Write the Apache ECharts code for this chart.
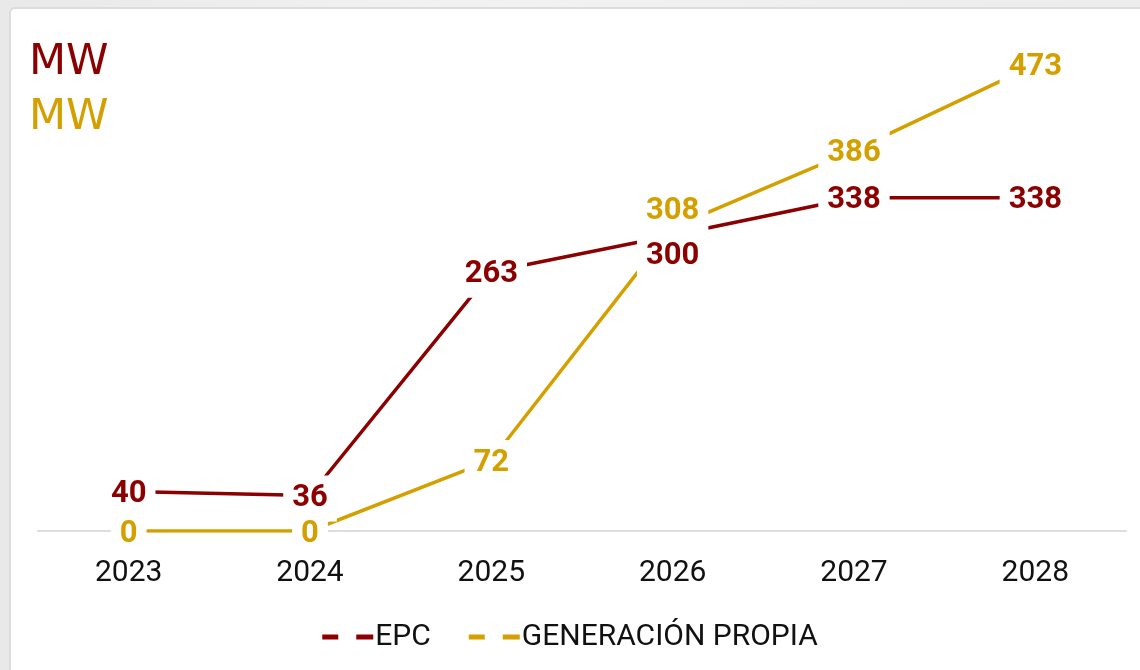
<!DOCTYPE html>
<html>
<head>
<meta charset="utf-8">
<script src="https://cdn.jsdelivr.net/npm/echarts@6/dist/echarts.min.js"></script>
<style>
  html, body { margin: 0; padding: 0; width: 1140px; height: 670px; overflow: hidden;
    background: linear-gradient(90deg, #e9e9e9 0%, #f2f2f2 40%, #ececec 100%); }
  #card { position: absolute; left: 9px; top: 7px; right: -10px; bottom: -10px;
    background: #ffffff; border: 2px solid #dcdcdc; border-radius: 6px; }
  #chart { position: absolute; left: 0; top: 0; width: 1140px; height: 670px; }
</style>
</head>
<body>
<div id="card"></div>
<div id="chart"></div>
<script>
// Installed capacity (MW) per year
const years = ['2023', '2024', '2025', '2026', '2027', '2028'];
const epc = [40, 36, 263, 300, 338, 338];
const generacionPropia = [0, 0, 72, 308, 386, 473];
const seriesNames = ['EPC', 'GENERACIÓN PROPIA'];
const unitLabel = 'MW';

const RED = '#8b0000';
const GOLD = '#d4a000';

// Label offsets (px); the 2026 labels are pushed apart
const BASE_DY = 3;
const epcNudge = [0, 0, 0, 18, 0, 0];
const genNudge = [0, 0, 0, -19, 0, 0];

function labelled(values, nudge) {
  return values.map((v, i) => ({
    value: v,
    label: { offset: [0, BASE_DY + nudge[i]] }
  }));
}

const valueLabel = (color) => ({
  show: true,
  position: 'inside',
  color: color,
  opacity: 1,
  fontFamily: 'Roboto',
  fontWeight: 'bold',
  fontSize: 31,
  backgroundColor: '#ffffff',
  padding: [8, 9, 7, 9]
});

const lineSeries = (name, values, color) => ({
  name: name,
  type: 'line',
  data: values,
  color: color,
  lineStyle: { color: color, width: 3.5 },
  symbol: 'none',
  z: 2
});

// Value labels sit on top of both lines, with a white backing
const labelSeries = (name, values, nudge, color) => ({
  name: name,
  type: 'scatter',
  data: labelled(values, nudge),
  symbolSize: 0,
  itemStyle: { color: color, opacity: 1 },
  label: valueLabel(color),
  z: 3,
  silent: true
});

const chart = echarts.init(document.getElementById('chart'), null, { renderer: 'canvas' });

chart.setOption({
  animation: false,
  graphic: [
    { type: 'text', left: 29, top: 41, z: 10,
      style: { text: unitLabel, fill: RED, font: '43px "DejaVu Sans"' } },
    { type: 'text', left: 29, top: 96, z: 10,
      style: { text: unitLabel, fill: GOLD, font: '43px "DejaVu Sans"' } }
  ],
  grid: { left: 38, right: 14, top: 38, bottom: 139 },
  legend: {
    top: 617,
    left: 'center',
    itemGap: 38,
    itemWidth: 51,
    itemHeight: 5,
    textStyle: { fontFamily: 'Roboto', fontSize: 30, color: '#111111', padding: [0, 0, 0, -3] },
    data: [
      { name: seriesNames[0], icon: 'path://M0,0H16V5H0Z M34,0H51V5H34Z', itemStyle: { color: RED } },
      { name: seriesNames[1], icon: 'path://M0,0H16V5H0Z M34,0H51V5H34Z', itemStyle: { color: GOLD } }
    ]
  },
  xAxis: {
    type: 'category',
    data: years,
    boundaryGap: true,
    axisLine: { show: true, lineStyle: { color: '#dddddd', width: 2 } },
    axisTick: { show: false },
    axisLabel: { color: '#111111', fontFamily: 'Roboto', fontSize: 30, margin: 27 }
  },
  yAxis: {
    type: 'value',
    min: 0,
    max: 500,
    show: false,
    splitLine: { show: false }
  },
  series: [
    lineSeries(seriesNames[0], epc, RED),
    lineSeries(seriesNames[1], generacionPropia, GOLD),
    labelSeries(seriesNames[0], epc, epcNudge, RED),
    labelSeries(seriesNames[1], generacionPropia, genNudge, GOLD)
  ]
});
</script>
</body>
</html>
